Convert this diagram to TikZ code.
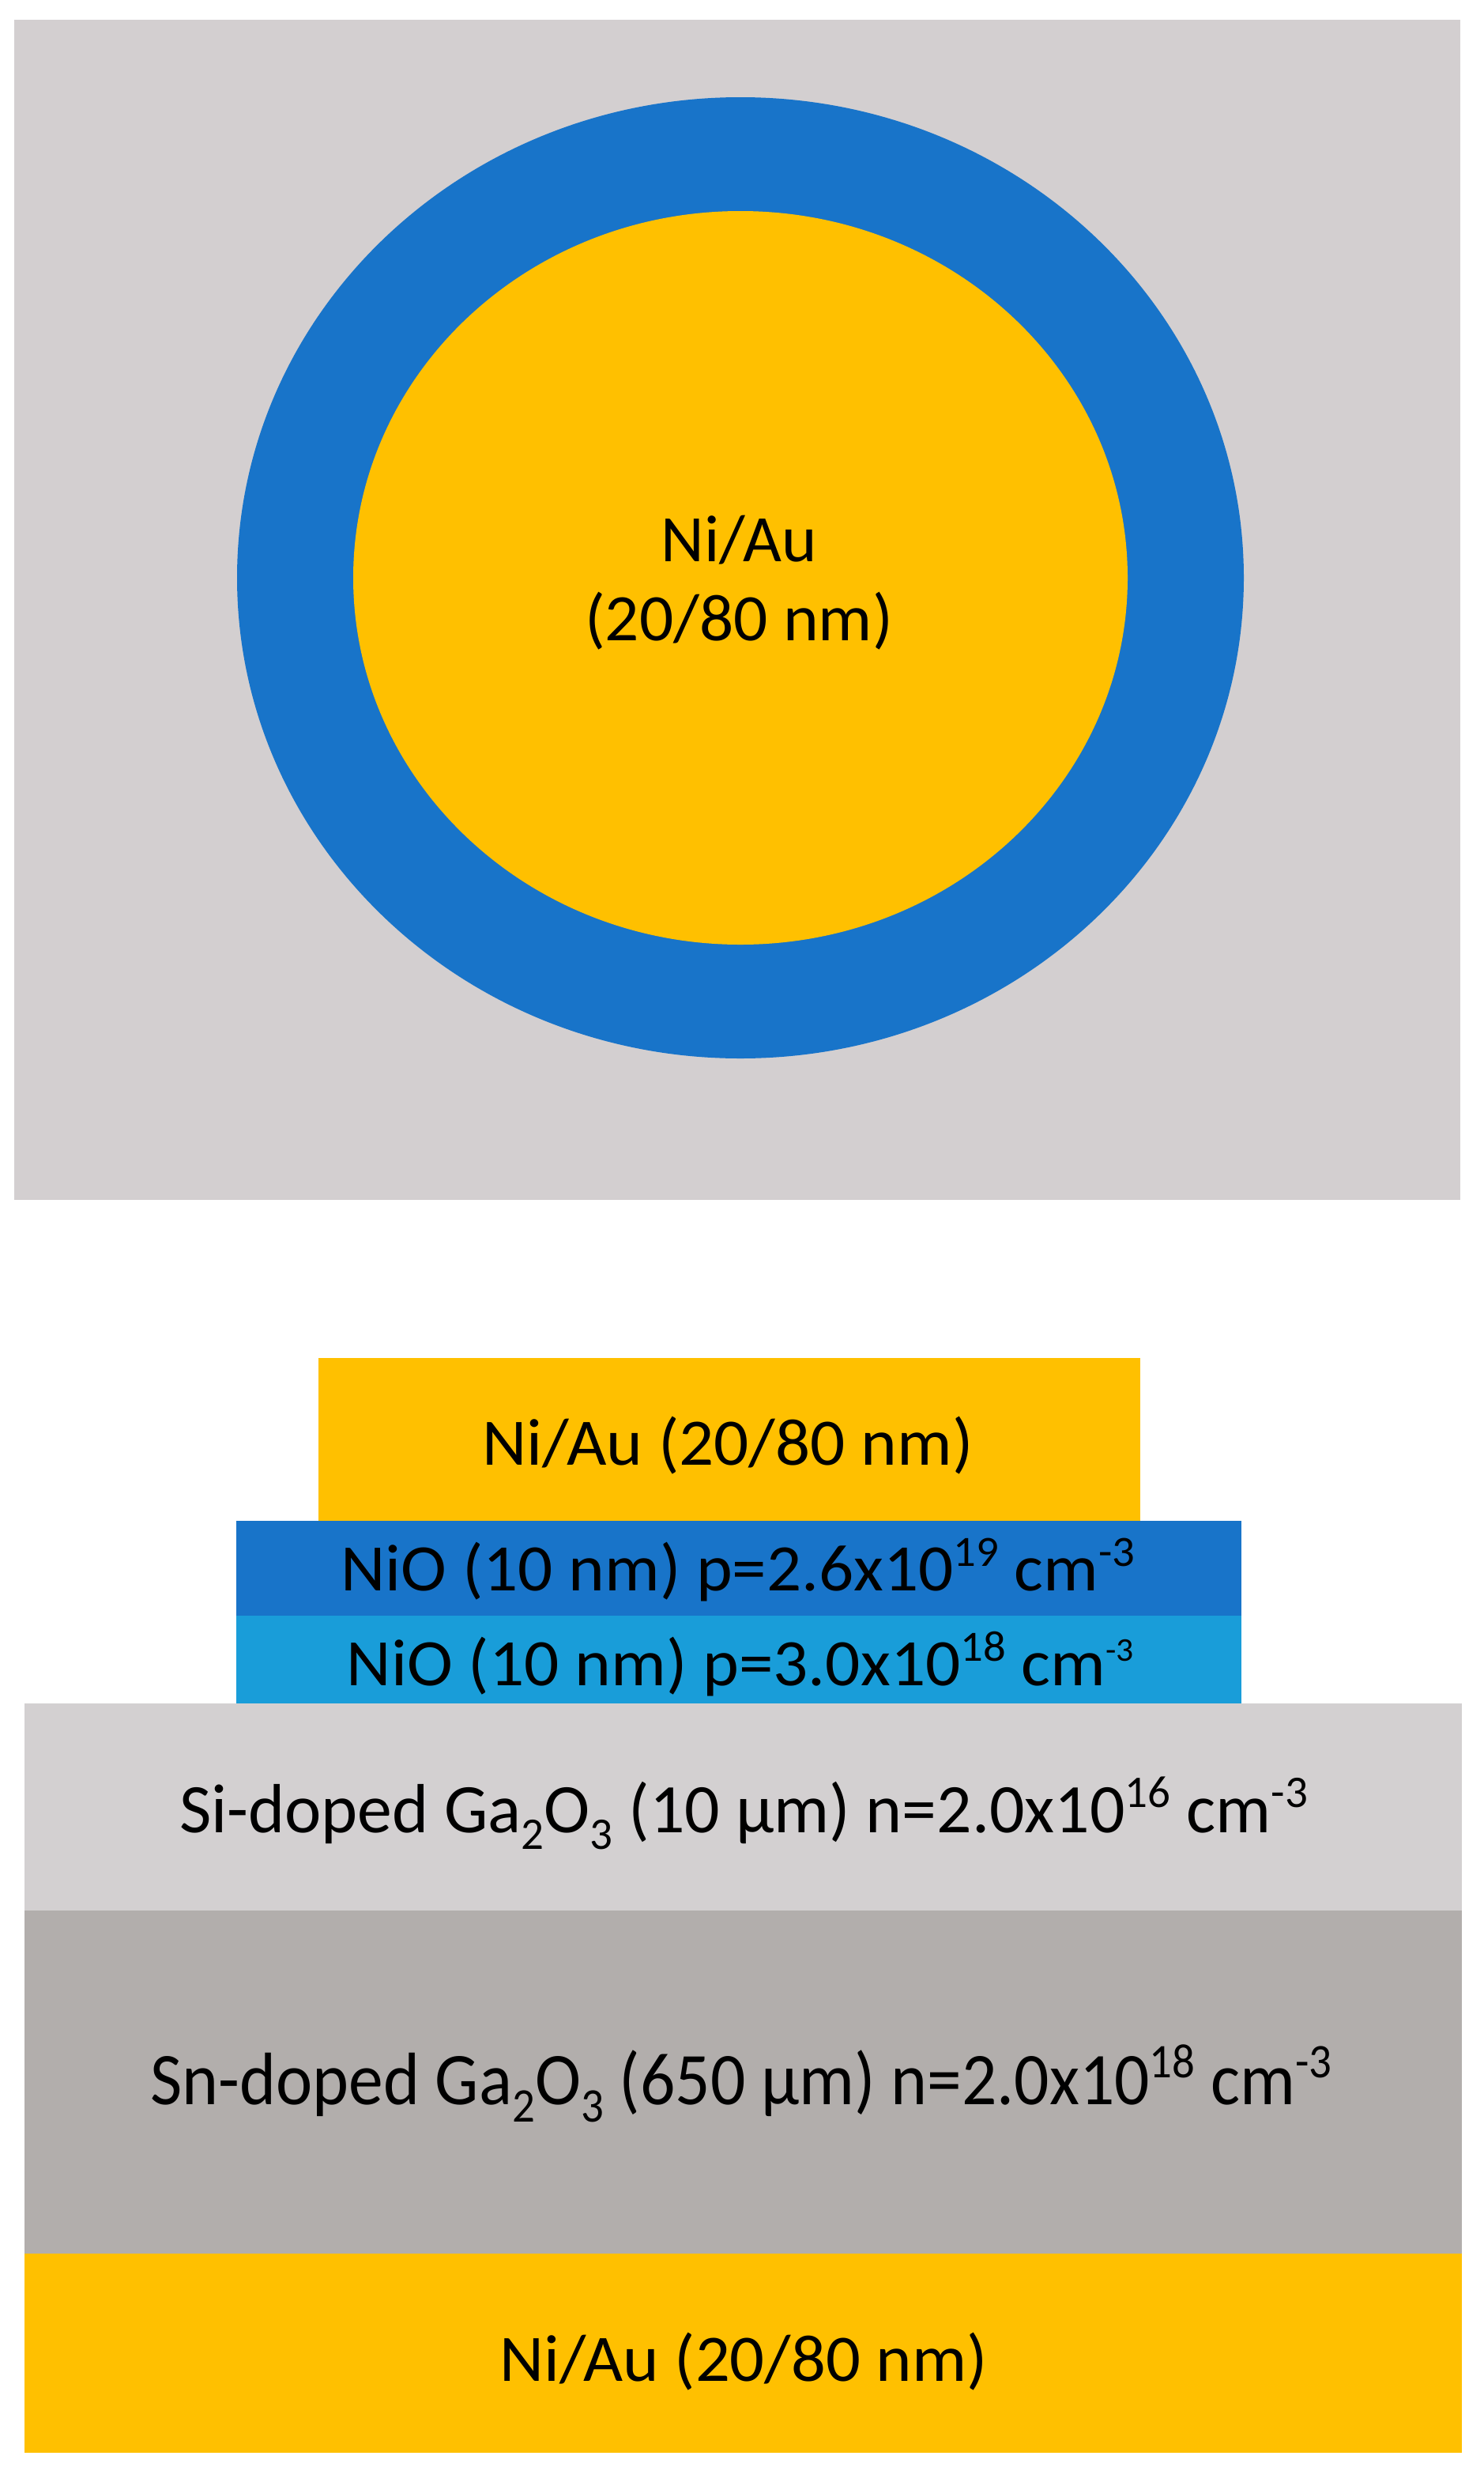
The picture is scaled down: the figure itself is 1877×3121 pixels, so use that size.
\documentclass[tikz,border=0pt]{standalone}
\usepackage{fontspec}
\setmainfont{Carlito}
\usepackage{graphicx}
\definecolor{bggray}{HTML}{D3CFD0}
\definecolor{ringblue}{HTML}{1874C9}
\definecolor{gold}{HTML}{FFC000}
\definecolor{lightblue}{HTML}{199DD9}
\definecolor{sigray}{HTML}{D3D0D1}
\definecolor{sngray}{HTML}{B2AEAC}
\newcommand{\fitw}[2]{\resizebox{#1pt}{\height}{#2}}
\newcommand{\sups}[1]{\raisebox{0.36em}{\scalebox{0.65}{#1}}}
\newcommand{\smallsups}[1]{\raisebox{0.36em}{\scalebox{0.5}{#1}}}
\newcommand{\subs}[1]{\raisebox{-0.24em}{\scalebox{0.65}{#1}}}
\tikzset{
  lbl/.style={anchor=base, inner sep=0pt, text=black, font=\fontsize{84}{100}\selectfont},
}
\begin{document}
\begin{tikzpicture}[x=1pt,y=-1pt]
\useasboundingbox (0,0) rectangle (1877,3121);
% top view
\fill[bggray] (18,25) rectangle (1848,1518);
\fill[ringblue] (937,731) ellipse [x radius=637, y radius=608];
\fill[gold] (937,731) ellipse [x radius=490, y radius=464];
\node[lbl] (c1) at (935,710) {\fitw{197}{Ni/Au}};
\node[lbl] (c2) at (935,810) {\fitw{390}{(20/80 nm)}};
% cross section
\fill[gold] (403,1718) rectangle (1443,1924);
\fill[ringblue] (299,1924) rectangle (1571,2044);
\fill[lightblue] (299,2044) rectangle (1571,2155);
\fill[sigray] (31,2155) rectangle (1850,2417);
\fill[sngray] (31,2417) rectangle (1850,2851);
\fill[gold] (31,2851) rectangle (1850,3103);
\node[lbl] (t) at (921,1853) {\fitw{621}{Ni/Au (20/80 nm)}};
\node[lbl] (n1) at (934,2012) {\fitw{1005}{NiO (10 nm) p=2.6x10\sups{19} cm\sups{-3}}};
\node[lbl] (n2) at (937,2132) {\fitw{996}{NiO (10 nm) p=3.0x10\sups{18} cm\smallsups{-3}}};
\node[lbl, font=\fontsize{88}{100}\selectfont] (si) at (941,2318) {\fitw{1428}{Si-doped Ga\subs{2}O\subs{3} (10 µm) n=2.0x10\sups{16} cm\sups{-3}}};
\node[lbl, font=\fontsize{94}{110}\selectfont] (sn) at (938,2662) {\fitw{1495}{Sn-doped Ga\subs{2}O\subs{3} (650 µm) n=2.0x10\sups{18} cm\sups{-3}}};
\node[lbl] (b) at (941,3012) {\fitw{617}{Ni/Au (20/80 nm)}};
\end{tikzpicture}
\end{document}
